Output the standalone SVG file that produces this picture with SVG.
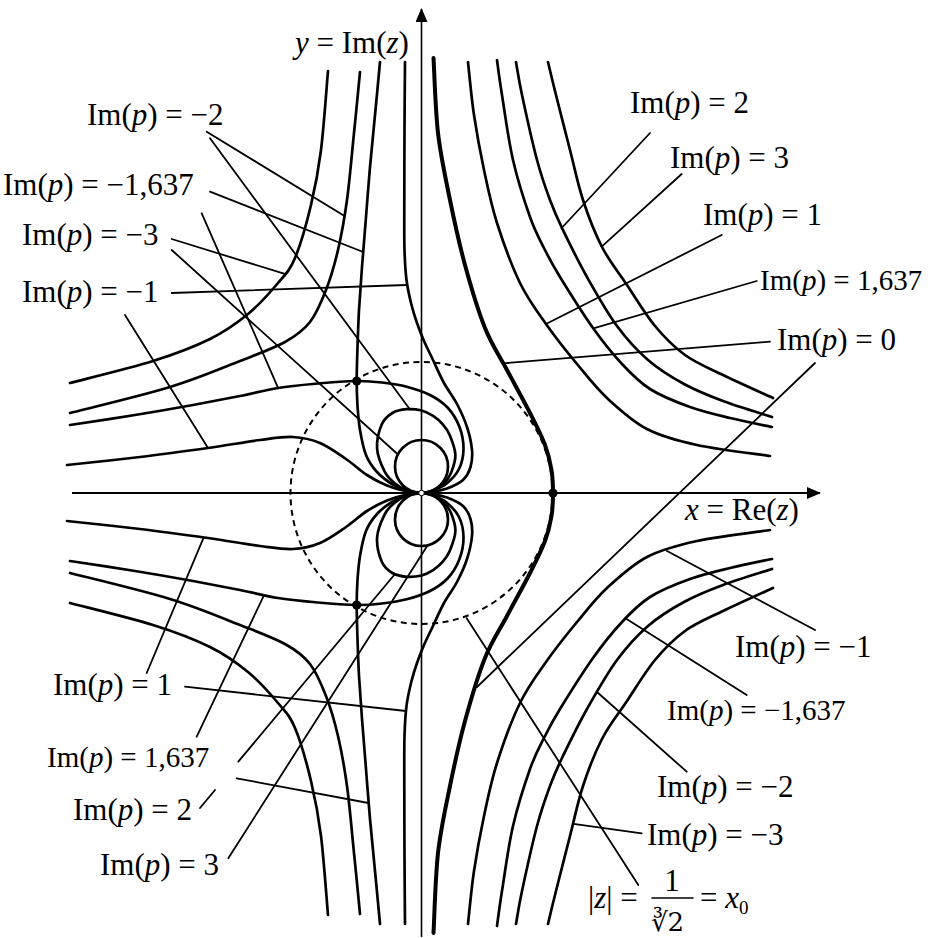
<svg xmlns="http://www.w3.org/2000/svg" width="934" height="938" viewBox="0 0 934 938">
<style>
.crv{fill:none;stroke:#000;stroke-width:2.7;stroke-linecap:round;stroke-linejoin:round}
.thick{fill:none;stroke:#000;stroke-width:4;stroke-linecap:round}
.ldr{fill:none;stroke:#000;stroke-width:1.8;stroke-linecap:round}
.axis{fill:none;stroke:#000;stroke-width:2}
.dash{fill:none;stroke:#000;stroke-width:2;stroke-dasharray:6 4.5}
.lbl{font-family:"Liberation Serif","Times New Roman",serif;font-size:31px;fill:#000}
.sm{font-size:29px}
.it{font-style:italic}
.dot{fill:#000}
</style>
<defs>
<g id="half" class="crv">
<path d="M328,71 C326.8,84.2 323.8,127.7 321,150 C318.2,172.3 315.3,187 311,205 C306.7,223 300.5,245 295,258 C289.5,271 285.8,273.7 278,283 C270.2,292.3 259.3,304.7 248,314 C236.7,323.3 225.8,331.2 210,339 C194.2,346.8 176.3,353.7 153,361 C129.7,368.3 83.8,379.3 70,383"/>
<path d="M360,72 C359,82.2 356.2,111.7 354,133 C351.8,154.3 349.7,180.5 347,200 C344.3,219.5 341.5,235 338,250 C334.5,265 330.7,278 326,290 C321.3,302 316.8,313.3 310,322 C303.2,330.7 296.7,335.5 285,342 C273.3,348.5 259.2,353.5 240,361 C220.8,368.5 198.3,378.3 170,387 C141.7,395.7 86.7,408.7 70,413"/>
<path d="M70,425 C80.8,423.3 114.5,418.3 135,415 C155.5,411.7 175.5,408.2 193,405 C210.5,401.8 225.8,398.8 240,396 C254.2,393.2 265,390.1 278,388 C291,385.9 304.9,384.7 318,383.5 C331.1,382.3 346,381.2 356.7,381 C367.4,380.8 373.7,381.5 382,382.5 C390.3,383.5 398.7,384.6 406.7,386.7 C414.7,388.8 423.1,391.5 430,395 C436.9,398.5 443.1,402.7 448,408 C452.9,413.3 456.9,420.2 459.5,427 C462.1,433.8 463.6,442 463.5,449 C463.4,456 461.9,463.2 459,469 C456.1,474.8 450.7,480.3 446,484 C441.3,487.7 435.1,489.5 431,491 C426.9,492.5 423.1,492.7 421.5,493"/>
<path d="M380,62 C379.2,70.8 376.7,97.5 375,115 C373.3,132.5 371.5,150 370,167 C368.5,184 367.3,200.3 366,217 C364.7,233.7 363.2,251.5 362,267 C360.8,282.5 359.8,296.7 359,310 C358.3,323.3 357.9,335.2 357.5,347 C357.1,358.8 356.7,371.2 356.7,381 C356.7,390.8 357,397.8 357.5,406 C358.1,414.2 358.6,421.8 360,430 C361.4,438.2 363.2,448 366,455 C368.8,462 372.7,467.2 377,472 C381.3,476.8 387,480.9 392,484 C397,487.1 402.1,489 407,490.5 C411.9,492 419.1,492.6 421.5,493"/>
<path d="M67,465 C79.2,463.7 116.5,459.8 140,457 C163.5,454.2 188,450.8 208,448 C228,445.2 245.8,441.8 260,440 C274.2,438.2 283,436.5 293,437 C303,437.5 311.2,439.3 320,443 C328.8,446.7 338.2,453.7 346,459 C353.8,464.3 360.2,470.6 367,475 C373.8,479.4 380.3,482.8 387,485.5 C393.7,488.3 401.3,490.3 407,491.5 C412.8,492.8 419.1,492.75 421.5,493"/>
<path d="M405,62 C404.9,73.3 404.6,107 404.5,130 C404.4,153 404.3,180 404.3,200 C404.3,220 404.1,236.7 404.5,250 C404.9,263.3 405.4,271.2 406.5,280 C407.6,288.8 409.3,295.8 411,303 C412.8,310.2 414.8,316.7 417,323 C419.2,329.3 421.3,334.8 424,341 C426.7,347.2 429.7,353 433,360 C436.3,367 440,375.7 444,383 C448,390.3 453.2,396.7 457,404 C460.8,411.3 464.5,419.3 467,427 C469.5,434.7 471.4,443.3 472,450 C472.6,456.7 472,462 470.5,467 C469,472 466.9,476.4 463,480 C459.1,483.6 452.3,486.5 447,488.5 C441.7,490.5 435.3,491.3 431,492 C426.8,492.75 423.1,492.8 421.5,493"/>
<path d="M421.5,493 C425.9,493 429.8,492.1 433.5,490.5 C437.2,488.9 441,486.3 443.9,483.4 C446.8,480.5 449.1,477.6 451,472.9 C452.9,468.2 455.6,461.3 455.4,455 C455.2,448.7 451.9,440.4 449.8,435.3 C447.7,430.2 445.6,427.6 442.8,424.4 C440,421.2 436.7,418.2 433.1,415.9 C429.5,413.6 425.9,411.6 421.5,410.5 C417.1,409.4 411.6,408.8 406.7,409.2 C401.8,409.6 396.5,410.5 392.4,413 C388.3,415.5 384.4,418.4 381.8,424.3 C379.3,430.2 376.6,440.7 377.1,448.6 C377.6,456.5 381.8,465.9 384.7,471.7 C387.6,477.5 390.9,480.2 394.7,483.3 C398.5,486.4 402.8,488.9 407.3,490.5 C411.8,492.1 417.1,493 421.5,493 Z"/>
<circle cx="421.5" cy="466.5" r="26.5"/>
<path d="M468,62 C469,70.8 471.3,97 474,115 C476.7,133 480.2,152 484,170 C487.8,188 491,204.2 497,223 C503,241.8 511.8,266.2 520,283 C528.2,299.8 536.5,310.5 546,324 C555.5,337.5 566.8,351.7 577,364 C587.2,376.3 595.3,387.2 607,398 C618.7,408.8 632,421.2 647,429 C662,436.8 676.5,440.5 697,445 C717.5,449.5 757.8,454.2 770,456"/>
<path d="M497,60 C497.8,65.8 499.3,78.3 502,95 C504.7,111.7 508.3,139.7 513,160 C517.7,180.3 524.7,202 530,217 C535.3,232 540,240 545,250 C550,260 552,264 560,277 C568,290 582.7,313.5 593,328 C603.3,342.5 612.5,353.8 622,364 C631.5,374.2 638.7,381.8 650,389 C661.3,396.2 676.7,402.2 690,407 C703.3,411.8 716.3,414.7 730,418 C743.7,421.3 765,425.5 772,427"/>
<path d="M516,62 C517,67.5 518.5,78.7 522,95 C525.5,111.3 532.3,142.5 537,160 C541.7,177.5 545.8,188.7 550,200 C554.2,211.3 555.8,215.2 562,228 C568.2,240.8 577.8,260.7 587,277 C596.2,293.3 606.8,312.2 617,326 C627.2,339.8 636.8,350.3 648,360 C659.2,369.7 671.5,377.2 684,384 C696.5,390.8 708.3,395.5 723,401 C737.7,406.5 763.8,414.3 772,417"/>
<path d="M548,62 C549.3,67.5 552.3,80.3 556,95 C559.7,109.7 565.5,132.5 570,150 C574.5,167.5 577.7,183.8 583,200 C588.3,216.2 594.7,232.8 602,247 C609.3,261.2 618.2,271.8 627,285 C635.8,298.2 645.3,314.3 655,326 C664.7,337.7 673.7,346.8 685,355 C696.3,363.2 708.3,367.8 723,375 C737.7,382.2 764.7,394.2 773,398"/>
</g>
<marker id="arr" viewBox="0 0 14 12" refX="13" refY="6" markerWidth="14" markerHeight="12" markerUnits="userSpaceOnUse" orient="auto"><path d="M0,0 L14,6 L0,12 Z" fill="#000"/></marker>
</defs>
<rect width="934" height="938" fill="#fff"/>
<g id="axes">
<line class="axis" x1="72" y1="493" x2="820" y2="493" marker-end="url(#arr)"/>
<line class="axis" x1="421.5" y1="937" x2="421.5" y2="9" marker-end="url(#arr)" style="stroke-width:1.6"/>
</g>
<g id="level-curves">
<use href="#half"/>
<use href="#half" transform="matrix(1 0 0 -1 0 986)"/>
<path class="thick" d="M433.5,58 C434.3,70.5 435.3,109.3 438,133 C440.8,156.7 445.5,178 450,200 C454.5,222 459.2,243.7 465,265 C470.8,286.3 478,310.5 485,328 C492,345.5 499.5,355.8 507,370 C514.5,384.2 523.7,400.5 530,413 C536.3,425.5 541.4,435.5 545,445 C548.6,454.5 550.2,462 551.5,470 C552.8,478 553,485.3 553,493 C553,500.7 552.8,508 551.5,516 C550.2,524 548.6,531.5 545,541 C541.4,550.5 536.3,560.5 530,573 C523.7,585.5 514.5,601.8 507,616 C499.5,630.2 492,640.5 485,658 C478,675.5 470.8,699.7 465,721 C459.2,742.3 454.5,764 450,786 C445.5,808 440.8,828.5 438,853 C435.3,877.5 434.3,919.7 433.5,933"/>
<circle class="dash" cx="421.5" cy="493" r="131"/>
</g>
<g id="leaders" class="ldr">
<path d="M206.7,131.7 L344.5,216"/>
<path d="M210,138.3 L410,409.5"/>
<path d="M210,191.7 L363.2,252"/>
<path d="M201.7,213.3 L278.3,388.3"/>
<path d="M171.7,239 L284,273.7"/>
<path d="M171.7,250 L398,454.5"/>
<path d="M171.7,293 L406.5,285"/>
<path d="M125,315 L208,448"/>
<path d="M650,133 L561.7,228"/>
<path d="M681.7,174 L601.7,246.7"/>
<path d="M721.7,235 L546,324"/>
<path d="M756.7,281 L593.3,328.3"/>
<path d="M770,341.7 L503.3,363.3"/>
<path d="M815,363 L477,687"/>
<path d="M815,630 L667,551"/>
<path d="M746.7,695 L625,618"/>
<path d="M686.7,771.7 L597,692"/>
<path d="M641.7,833.3 L573.5,823.8"/>
<path d="M638.3,885 L466.7,618.3"/>
<path d="M146.7,673 L203.3,538.3"/>
<path d="M185,686.7 L406,711"/>
<path d="M196.7,736.7 L263.3,596.7"/>
<path d="M236.7,778.3 L368.5,803"/>
<path d="M200,808 L215,790"/>
<path d="M238.3,761.7 L395,574"/>
<path d="M228.3,858.3 L427.5,545.5"/>
</g>
<g id="points">
<circle class="dot" cx="356.7" cy="381" r="4.6"/>
<circle class="dot" cx="356.7" cy="605" r="4.6"/>
<circle class="dot" cx="553" cy="493" r="4.6"/>
<circle cx="421.5" cy="493" r="2.8" fill="#fff" stroke="#000" stroke-width="1"/>
</g>
<g id="labels" class="lbl">
<text x="295" y="53"><tspan class="it">y</tspan> = Im(<tspan class="it">z</tspan>)</text>
<text x="685" y="520"><tspan class="it">x</tspan> = Re(<tspan class="it">z</tspan>)</text>
<text x="87" y="125">Im(<tspan class="it">p</tspan>) = −2</text>
<text x="3" y="195">Im(<tspan class="it">p</tspan>) = −1,637</text>
<text x="22" y="245">Im(<tspan class="it">p</tspan>) = −3</text>
<text x="22" y="302">Im(<tspan class="it">p</tspan>) = −1</text>
<text x="630" y="113">Im(<tspan class="it">p</tspan>) = 2</text>
<text x="670" y="168">Im(<tspan class="it">p</tspan>) = 3</text>
<text x="703" y="225">Im(<tspan class="it">p</tspan>) = 1</text>
<text class="sm" x="760" y="290">Im(<tspan class="it">p</tspan>) = 1,637</text>
<text x="777" y="350">Im(<tspan class="it">p</tspan>) = 0</text>
<text x="53" y="695">Im(<tspan class="it">p</tspan>) = 1</text>
<text class="sm" x="47" y="767">Im(<tspan class="it">p</tspan>) = 1,637</text>
<text x="73" y="820">Im(<tspan class="it">p</tspan>) = 2</text>
<text x="100" y="875">Im(<tspan class="it">p</tspan>) = 3</text>
<text x="735" y="657">Im(<tspan class="it">p</tspan>) = −1</text>
<text class="sm" x="667" y="720">Im(<tspan class="it">p</tspan>) = −1,637</text>
<text x="657" y="797">Im(<tspan class="it">p</tspan>) = −2</text>
<text x="647" y="845">Im(<tspan class="it">p</tspan>) = −3</text>
<text x="588" y="908">|<tspan class="it">z</tspan>| =</text>
<text x="672" y="891" text-anchor="middle">1</text>
<text x="651" y="931" style="font-family:'DejaVu Serif',serif;font-size:26px">∛2</text>
<text x="700" y="908">= <tspan class="it">x</tspan><tspan style="font-size:19px" dy="6">0</tspan></text>
</g>
<g id="fraction" class="ldr">
<path d="M652,898 L693,898" style="stroke-width:1.6"/>
</g>
</svg>
